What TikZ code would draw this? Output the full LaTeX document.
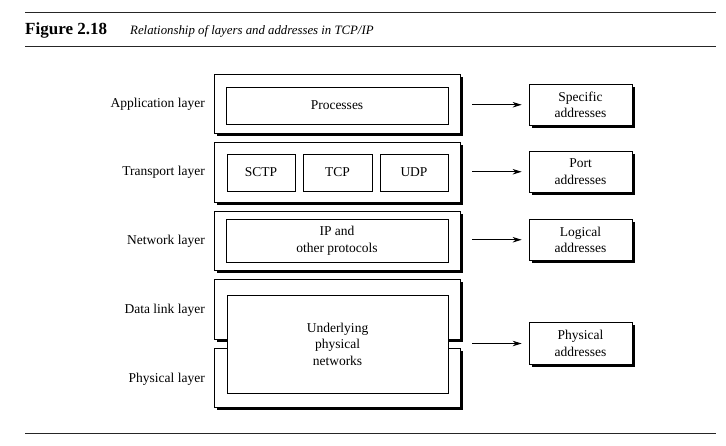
\documentclass[tikz,border=0pt]{standalone}
\usepackage{fontspec}
\setmainfont{Liberation Serif}
\usetikzlibrary{arrows.meta,shadows}
\begin{document}
\begin{tikzpicture}[x=1pt,y=-1pt,
  lbl/.style={font=\fontsize{13.5}{16.5}\selectfont},
  shad/.style={drop shadow={shadow xshift=2.5pt, shadow yshift=-2.5pt, fill=black, opacity=1}},
  layerbox/.style={draw, fill=white, line width=0.7pt, inner sep=0pt,
    minimum width=246pt, minimum height=59.5pt, shad},
  inbox/.style={draw, fill=white, line width=0.6pt, inner sep=0pt, align=center, lbl},
  addrbox/.style={draw, fill=white, line width=0.7pt, inner sep=0pt, align=center, lbl,
    minimum width=103pt, minimum height=41.5pt, shad},
  layerlbl/.style={lbl, anchor=east, inner sep=0pt},
  arr/.style={-{Stealth[length=9pt,width=5.5pt]}, line width=0.9pt},
  rulel/.style={line width=1pt, black!85}]
\useasboundingbox (0,0) rectangle (726,445);

% rules and caption
\draw[rulel] (25,12) -- (716,12);
\draw[rulel] (25,46) -- (716,46);
\draw[rulel] (25,433) -- (716,433);
\node[anchor=base west, inner sep=0pt, font=\fontsize{17}{19}\selectfont\bfseries] (fig) at (25,34) {Figure 2.18};
\node[anchor=base west, inner sep=0pt, font=\fontsize{12.8}{15}\selectfont\itshape] (cap) at (130,34) {Relationship of layers and addresses in TCP/IP};

% layer boxes
\node[layerbox] (app) at (337,103.75) {};
\node[layerbox] (trn) at (337,172.25) {};
\node[layerbox] (net) at (337,240.75) {};
\node[layerbox] (dll) at (337,309.25) {};
\node[layerbox] (phy) at (337,377.75) {};

% inner boxes
\node[inbox, minimum width=222pt, minimum height=37pt] (proc) at (337,105.5) {Processes};
\node[inbox, minimum width=68pt, minimum height=37pt] (sctp) at (261,172.5) {SCTP};
\node[inbox, minimum width=69pt, minimum height=37pt] (tcp) at (337.5,172.5) {TCP};
\node[inbox, minimum width=68pt, minimum height=37pt] (udp) at (414,172.5) {UDP};
\node[inbox, minimum width=222pt, minimum height=43pt] (ip) at (337,240.5) {IP and\\other protocols};
\node[inbox, minimum width=221pt, minimum height=98pt] (und) at (337.5,344) {Underlying\\physical\\networks};

% layer labels
\node[layerlbl] (lapp) at (205,104.5) {Application layer};
\node[layerlbl] (ltrn) at (205,172) {Transport layer};
\node[layerlbl] (lnet) at (205,241) {Network layer};
\node[layerlbl] (ldll) at (205,310) {Data link layer};
\node[layerlbl] (lphy) at (205,379) {Physical layer};

% address boxes
\node[addrbox] (spec) at (580.5,104.75) {Specific\\addresses};
\node[addrbox] (port) at (580.5,171.75) {Port\\addresses};
\node[addrbox] (logi) at (580.5,239.75) {Logical\\addresses};
\node[addrbox] (phad) at (580.5,343.5) {Physical\\addresses};

% arrows
\draw[arr, shorten <=12pt, shorten >=7pt] (app.east |- spec.west) -- (spec.west);
\draw[arr, shorten <=12pt, shorten >=7pt] (trn.east |- port.west) -- (port.west);
\draw[arr, shorten <=12pt, shorten >=7pt] (net.east |- logi.west) -- (logi.west);
\draw[arr, shorten <=12pt, shorten >=7pt] (dll.east |- phad.west) -- (phad.west);
\end{tikzpicture}
\end{document}
